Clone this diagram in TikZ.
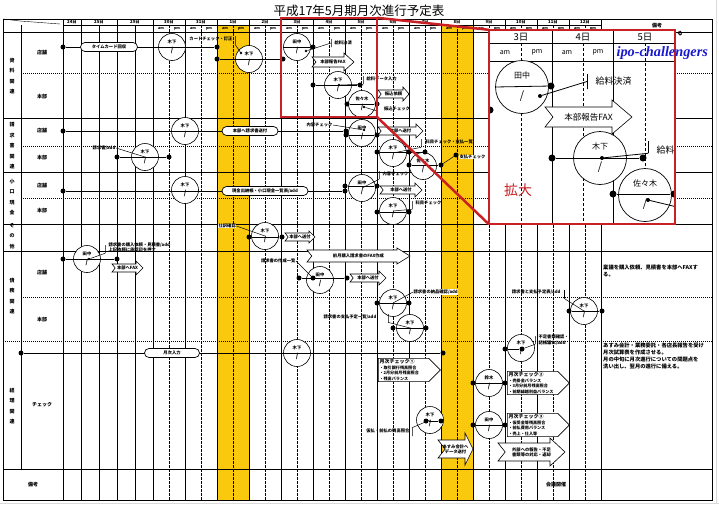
\documentclass[tikz,border=0pt]{standalone}
\usepackage{fontspec}
\setmainfont{Noto Sans CJK JP}
\newfontfamily\ipofont{Liberation Serif}
\usepackage{tikz}
\usetikzlibrary{shapes.geometric, shapes.symbols}
\definecolor{sunday}{RGB}{250,200,12}
\definecolor{zoomred}{RGB}{200,32,36}
\definecolor{ipoblue}{RGB}{25,25,205}
\tikzstyle{who} = [circle, draw, fill=white, minimum size=27pt, inner sep=0pt, align=center, line width=0.6pt, font=\fontsize{4.3}{9}\selectfont\bfseries]
\tikzstyle{bigwho} = [who, minimum size=53pt, line width=0.7pt, font=\fontsize{8}{21}\selectfont]
\tikzstyle{dot} = [circle, fill=black, inner sep=0pt, minimum size=5pt]
\tikzstyle{bigdot} = [dot, minimum size=7pt]
\tikzstyle{pin} = [dot, minimum size=2.8pt]
\tikzstyle{vbar} = [draw, inner sep=0pt, minimum width=0pt, minimum height=8pt, line width=0.6pt]
\tikzstyle{tag} = [inner sep=0.4pt, font=\fontsize{4.3}{5.2}\selectfont\bfseries]
\tikzstyle{ampm} = [inner sep=0pt, font=\fontsize{3.6}{4}\selectfont\bfseries]
\tikzstyle{note} = [inner sep=0pt, align=left, font=\fontsize{5.3}{6.8}\selectfont\bfseries]
\tikzstyle{grp} = [align=center, inner sep=0pt, font=\fontsize{5}{10.5}\selectfont\bfseries]
\tikzstyle{oval} = [rectangle, rounded corners=4.5pt, draw, fill=white, minimum height=9pt, inner sep=1pt, line width=0.7pt, font=\fontsize{4.3}{5}\selectfont\bfseries]
\tikzstyle{check} = [signal, signal to=east, draw, fill=white, align=left, text width=48pt, inner sep=1.2pt, line width=0.6pt, font=\fontsize{4.1}{5.4}\selectfont\bfseries]
\tikzstyle{line} = [draw, line width=0.8pt]
\tikzstyle{lead} = [draw, line width=0.5pt]
\tikzstyle{redline} = [draw=zoomred, line width=2.5pt]
\newcommand{\wslash}{\fontsize{6.5}{9}\selectfont /}
% notched block arrow: left x, tip x, y, body half, head half, head length, name, text
\newcommand{\fatarrow}[8]{%
  \draw[fill=white, line width=0.6pt] (#1,#3-#4) -- (#2-#6,#3-#4) -- (#2-#6,#3-#5) -- (#2,#3)
    -- (#2-#6,#3+#5) -- (#2-#6,#3+#4) -- (#1,#3+#4) -- (#1+#4*0.8,#3) -- cycle;
  \node[tag, align=center] (#7) at ({(#1+#2)/2},#3) {#8};}

\begin{document}
\begin{tikzpicture}[x=1pt, y=-1pt]
\useasboundingbox (0,0) rectangle (719,504);
\draw[gray!30] (0,503) -- (719,503);
\draw[gray!30] (716,0) -- (716,504);

\node (title) at (359,11) {\fontsize{12.5}{12.5}\selectfont 平成17年5月期月次進行予定表};

% sundays
\fill[sunday] (217,25) rectangle (249,500);
\fill[sunday] (441,25) rectangle (473,500);

% grid
\draw[line width=0.8pt] (3,19) rectangle (712,500);
\foreach \y in {32,118,172,224,251,469}
  \draw[line width=0.8pt] (3,\y) -- (712,\y);
\foreach \y in {73,146,198,297}
  \draw[dash pattern=on 0.8pt off 1.2pt, line width=0.7pt] (21,\y) -- (712,\y);
\draw[dash pattern=on 0.8pt off 1.2pt, line width=0.7pt] (3,341) -- (712,341);
\draw (63,25) -- (601,25);
\draw (21,25) -- (21,469);
\draw (3,19) -- (20,21) -- (60,24);
\foreach \x in {63,81,117,153,185,217,...,601}
  \draw (\x,19) -- (\x,500);
\foreach \x in {99,135}
  \draw (\x,25) -- (\x,500);
\foreach \x in {169,201,...,585}
  \draw[dash pattern=on 2.5pt off 1.5pt] (\x,25) -- (\x,500);

\foreach \d/\x in {24/72,25/99,29/135,30/169,31/201,1/233,2/265,3/297,4/329,5/361,6/393,7/425,8/457,9/489,10/521,11/553,12/585}
  \node[tag] (day\d) at (\x,22.2) {\d 日};
\foreach \x in {153,185,...,569} {
  \node[ampm] (am\x) at (\x+8,28.6) {am};
  \node[ampm] (pm\x) at (\x+24,28.6) {pm};
}
\node[tag, font=\fontsize{5}{6}\selectfont\bfseries] (bikohead) at (657,25.5) {備考};

\node[grp] (shiryo) at (12,76) {資\\料\\関\\連};
\node[grp] (seikyusho) at (12,146) {請\\求\\書\\関\\連};
\node[grp] (koguchi) at (12,197) {小\\口\\現\\金};
\node[grp] (sonota) at (12,236) {そ\\の\\他};
\node[grp] (saimu) at (12,296) {債\\務\\関\\連};
\node[grp] (keiri) at (12,406) {経\\理\\関\\連};
\foreach \n/\t/\y in {s1/店舗/53,s2/本部/97,s3/店舗/131,s4/本部/158,s5/店舗/186,s6/本部/211,s7/店舗/273,s8/本部/320,s9/チェック/405}
  \node[grp] (\n) at (42,\y) {\t};
\node[grp] (biko) at (33,485) {備考};

% 資料関連
\node[who] (kA) at (172,47) {木下\\\wslash};
\node[who] (kB) at (249,59) {木下\\\wslash};
\node[who] (tanaka) at (297,47) {田中\\\wslash};
\node[who] (kinoshita) at (338,85) {木下\\\wslash};
\node[who] (sasaki) at (362,104) {佐々木\\\wslash};
\node[dot] (a1) at (63,47) {};
\node[dot] (a2) at (217,47) {};
\node[dot] (a3) at (217,59) {};
\node[dot] (a4) at (283,59) {};
\node[pin] (a5) at (241,53) {};
\node[dot] (a6) at (313,47) {};
\node[pin] (a7) at (306,51) {};
\node[vbar] (t1) at (235,40) {};
\node[vbar] (t2) at (331,43) {};
\node[dot] (b1) at (313,85) {};
\node[dot] (b2) at (360,85) {};
\node[pin] (b3) at (339,85) {};
\node[vbar] (t3) at (363,80) {};
\node[dot] (b4) at (347,104) {};
\node[dot] (b5) at (377,104) {};
\node[pin] (b6) at (364,107) {};
\coordinate (b7) at (377,111);
\draw[line] (a1) -- (a2);
\draw[line] (a3) -- (a4);
\draw[lead] (t1.south) -- (a5);
\draw[line] (tanaka.west) -- (a6);
\draw[lead] (a7) -- (t2);
\draw[line] (b1) -- (b2);
\draw[lead] (b3) -- (t3.south);
\draw[line] (b4) -- (b5);
\draw[lead] (b6) -- (b7);
\node[oval, minimum width=57pt] (card) at (109,47) {タイムカード回収};
\node[tag, anchor=east] (cardchk) at (233,39) {カードチェック・訂正};
\node[tag, anchor=west] (kessai) at (334,43) {給料決済};
\node[tag, anchor=west] (kdata) at (366,79) {給料データ入力};
\fatarrow{312}{354}{62}{5}{9}{10}{fax}{本部報告FAX}
\fatarrow{378}{409}{94}{4}{7}{6}{furikomi}{振込依頼}
\node[tag] (fchk) at (397,109) {振込チェック};

% 請求書関連
\node[who] (kC) at (185,131) {木下\\\wslash};
\node[who] (tanakaC) at (362,133) {田中\\\wslash};
\node[who] (kD) at (145,157) {木下\\\wslash};
\node[who] (kE) at (393,153) {木下\\\wslash};
\node[who] (sasakiE) at (423,166) {佐々木\\\wslash};
\node[dot] (c1) at (63,131) {};
\node[dot] (c2) at (346,131) {};
\node[dot] (c3) at (346,135) {};
\node[dot] (c4) at (377,135) {};
\node[pin] (c5) at (364,130) {};
\node[dot] (d1) at (117,157) {};
\node[dot] (d2) at (169,157) {};
\node[dot] (d3) at (377,152) {};
\node[dot] (d4) at (409,152) {};
\node[dot] (d5) at (425,152) {};
\node[vbar] (t6) at (421,143) {};
\node[dot] (d6) at (409,165) {};
\node[dot] (d7) at (441,165) {};
\node[dot] (d8) at (456,155) {};
\draw[line] (c1) -- (c2);
\draw[line] (c3) -- (c4);
\draw[line] (d1) -- (d2);
\draw[line] (d3) -- (d5);
\draw[lead] (kE.center) -- (t6.south);
\draw[line] (d6) -- (d7);
\draw[lead] (d7) -- (d8);
\node[oval, minimum width=56pt] (seikyu) at (250,131) {本部へ請求書送付};
\node[tag, anchor=east] (naiyo1) at (333,125) {内容チェック};
\draw[lead] (naiyo1.east) -- (c5);
\node[tag, anchor=east] (seikyuadd) at (116,148) {請求書/add};
\draw[lead] (seikyuadd.east) -- (kD.center);
\node[tag, anchor=west] (kamoku1) at (425,142) {科目チェック・支払一覧};
\node[tag, fill=white, anchor=west] (shiharai) at (459,157) {支払チェック};
\fatarrow{378}{423}{131}{4}{7}{7}{sofu1}{本部へ送付}

% 小口現金
\node[who] (kF) at (185,190) {木下\\\wslash};
\node[who] (tanakaF) at (362,188) {田中\\\wslash};
\node[who] (kG) at (393,211) {木下\\\wslash};
\node[dot] (e1) at (63,191) {};
\node[dot] (e2) at (345,191) {};
\node[dot] (e3) at (345,186) {};
\node[dot] (e4) at (377,186) {};
\node[vbar] (t7) at (379,175) {};
\node[dot] (f1) at (377,212) {};
\node[dot] (f2) at (409,212) {};
\node[vbar] (t8) at (412,205) {};
\draw[line] (e1) -- (e2);
\draw[line] (e3) -- (e4);
\draw[lead] (t7.south) -- (tanakaF.center);
\draw[line] (f1) -- (f2);
\draw[lead] (kG.center) -- (t8.south);
\node[oval, minimum width=86pt] (kogu) at (265,191) {現金出納帳・小口現金一覧表/add};
\node[tag, anchor=west] (naiyo2) at (382,174) {内容チェック};
\node[tag, anchor=west] (kamoku2) at (415,203) {科目チェック};
\fatarrow{380}{422}{190}{4}{7}{7}{sofu2}{本部へ送付}

% その他
\node[who] (kH) at (265,236) {木下\\\wslash};
\node[dot] (g1) at (249,237) {};
\node[dot] (g2) at (282,237) {};
\draw[line] (g1) -- (g2);
\node[tag, fill=white, anchor=west] (shiwake) at (218,226) {仕訳確認};
\draw[lead] (shiwake.east) -- (kH.center);
\fatarrow{285}{315}{237}{4}{6}{6}{sofu3}{本部へ送付}

% 債務関連
\node[who] (tanakaH) at (87,259) {田中\\\wslash};
\node[who] (tanakaH2) at (320,280) {田中\\\wslash};
\node[who] (kI) at (393,303) {木下\\\wslash};
\node[who] (kJ) at (410,328) {木下\\\wslash};
\node[who] (kK) at (584,311) {木下\\\wslash};
\node[dot] (h1) at (63,259) {};
\node[dot] (h2) at (117,259) {};
\node[pin] (h3) at (89,259) {};
\node[vbar] (t9) at (105,249) {};
\node[dot] (h4) at (299,278) {};
\node[dot] (h5) at (313,278) {};
\node[dot] (h6) at (347,278) {};
\node[dot] (i1) at (377,303) {};
\node[dot] (i2) at (409,303) {};
\node[vbar] (t10) at (388,318) {};
\node[dot] (i3) at (393,328) {};
\node[dot] (i4) at (426,328) {};
\node[vbar] (t11) at (564,294) {};
\node[dot] (i5) at (569,311) {};
\node[dot] (i6) at (602,311) {};
\draw[line] (h1) -- (h2);
\draw[lead] (h3) -- (t9.south);
\draw[line] (h4) -- (h6);
\draw[line] (i1) -- (i2);
\draw[line] (i3) -- (i4);
\draw[lead] (t10.south) -- (kJ.center);
\draw[line] (i5) -- (i6);
\draw[lead] (t11.south) -- (kK.center);
\node[tag, anchor=west, align=left] (kounyu) at (108,247) {請求書の購入依頼・見積書/add\\上記依頼に承認印を押す};
\fatarrow{112}{143}{268}{4}{7}{7}{fax2}{本部へFAX}
\node[tag, anchor=east] (sakusei) at (296,261) {請求書の作成一覧};
\draw[lead] (sakusei.east) -- (h5);
\fatarrow{350}{386}{278}{4}{7}{7}{sofu4}{本部へ送付}
\fatarrow{307}{410}{256}{6}{8}{13}{zengetsu}{前月購入請求書のFAX作成}
\node[tag, fill=white, anchor=west] (nohin) at (413,292) {請求書の納品確認/add};
\draw[lead] (nohin.west) -- (kI.center);
\node[tag, anchor=west] (yotei) at (323,317) {請求書の支払予定一覧/add};
\node[tag, anchor=east] (yoteihyo) at (561,292) {請求書と支払予定表/add};
\node[note, anchor=north west] (note1) at (603,265) {稟議を購入依頼、見積書を本部へFAXす\\る。};
\node[note] (note0) at (680,34) {る};

% 経理関連
\node[who] (kL) at (297,353) {木下\\\wslash};
\node[who] (kM) at (521,348) {木下\\\wslash};
\node[who] (suzuki) at (489,383) {鈴木\\\wslash};
\node[who] (kN) at (430,420) {木下\\\wslash};
\node[who] (tanakaN) at (489,425) {田中\\\wslash};
\node[dot] (j1) at (21,353) {};
\node[dot] (j2) at (443,353) {};
\node[dot] (j3) at (505,349) {};
\node[dot] (j4) at (522,349) {};
\node[vbar] (t12) at (535,340) {};
\node[dot] (j5) at (473,383) {};
\node[dot] (j6) at (505,383) {};
\node[dot] (j7) at (426,421) {};
\node[dot] (j8) at (441,421) {};
\node[vbar] (t13) at (412,432) {};
\node[dot] (j9) at (473,425) {};
\node[dot] (j10) at (505,425) {};
\draw[line] (j1) -- (j2);
\draw[line] (j3) -- (j4);
\draw[lead] (j4) -- (t12.south);
\draw[line] (j5) -- (j6);
\draw[line] (j7) -- (j8);
\draw[lead] (t13.north) -- (kN.center);
\draw[line] (j9) -- (j10);
\node[oval, minimum width=55pt] (getsuji) at (172,353) {月次入力};
\node[tag, anchor=west, align=left] (fusoku) at (538,340) {不足書類確認・\\記帳漏れ/add};
\node[tag, anchor=east] (karibarai) at (410,431) {仮払・前払の残高照合};
\node[check, anchor=west] (chk1) at (378,370) {{\fontsize{5}{6}\selectfont 月次チェック①}\\・取引銀行残高照合\\・2月分前月残高照合\\・残高バランス};
\node[check, anchor=west] (chk2) at (507,383) {{\fontsize{5}{6}\selectfont 月次チェック②}\\・売掛金バランス\\・3月分前月残高照合\\・前期繰越利益バランス};
\node[check, anchor=west] (chk3) at (507,425) {{\fontsize{5}{6}\selectfont 月次チェック③}\\・仮受金等残高照合\\・前払費用バランス\\・売上・仕入等};
\fatarrow{438}{473}{449}{9}{16}{8}{asumi}{あすみ会計へ\\データ送付}
\fatarrow{498}{565}{452}{9}{14}{15}{gaibu}{外部への報告・不足\\書類等の対応・返却}
\node[note, anchor=north west] (note2) at (603,343) {あすみ会計・業務委託・各店長報告を受け\\月次試算表を作成させる。\\月の中旬に月次進行についての問題点を\\洗い出し、翌月の進行に備える。};
\node[grp] (kaigi) at (556,485) {会議開催};

% zoom
\node[minimum width=96pt, minimum height=99pt, inner sep=0pt] (src) at (329,67.5) {};
\node[fill=white, minimum width=186pt, minimum height=194pt, inner sep=0pt] (mag) at (582,127) {};
\begin{scope}
\clip (mag.north west) rectangle (mag.south east);
\draw (489,43) -- (675,43);
\draw (489,61) -- (675,61);
\foreach \x in {552,613}
  \draw (\x,30) -- (\x,224);
\foreach \x in {521,583,645}
  \draw[dash pattern=on 3pt off 2pt] (\x,43) -- (\x,224);
\foreach \d/\x in {3/521,4/583,5/645}
  \node[font=\fontsize{9.5}{10}\selectfont] (zday\d) at (\x,37) {\d 日};
\foreach \t/\x in {am/505,pm/537,am/567,pm/598}
  \node[font=\fontsize{7}{8}\selectfont] (z\t\x) at (\x,52.5) {\t};
\node[bigwho] (ztanaka) at (522,87) {田中\\{\fontsize{11}{21}\selectfont /}};
\node[bigwho] (zkinoshita) at (600,158) {木下\\{\fontsize{11}{21}\selectfont /}};
\node[bigwho] (zsasaki) at (645,195) {佐々木\\{\fontsize{11}{21}\selectfont /}};
\node[bigdot] (z0) at (490,110) {};
\node[bigdot] (z1) at (551,86) {};
\node[dot, minimum size=4pt] (z2) at (540,96) {};
\node[vbar, minimum height=15pt] (zt1) at (587,81.5) {};
\node[bigdot] (z3) at (552,158) {};
\node[bigdot] (z4) at (643,158) {};
\node[dot, minimum size=4pt] (z5) at (602,158) {};
\node[vbar, minimum height=12pt] (zt2) at (648,147) {};
\node[bigdot] (z6) at (613,194) {};
\node[bigdot] (z7) at (674,194) {};
\node[dot, minimum size=4pt] (z8) at (648,200) {};
\coordinate (z9) at (677,207);
\draw[line] (ztanaka.west) -- (z1);
\draw[lead, line width=0.8pt] (z2) -- (zt1.center);
\draw[line] (z3) -- (z4);
\draw[lead, line width=0.8pt] (z5) -- (zt2.south);
\draw[line] (z6) -- (z7);
\draw[lead, line width=0.8pt] (z8) -- (z9);
\node[anchor=west, font=\fontsize{9}{10}\selectfont] (zkessai) at (592,81) {給料決済};
\node[anchor=west, font=\fontsize{9}{10}\selectfont] (zkessai2) at (653,150) {給料決済};
\fatarrow{545}{632}{117}{10}{17}{20}{zfax}{\mdseries\fontsize{8.5}{9}\selectfont 本部報告FAX}
\node[text=zoomred, font=\fontsize{14}{14}\selectfont] (kakudai) at (518,190) {拡大};
\end{scope}
\draw[redline] (src.north west) rectangle (src.south east);
\draw[redline] (mag.north west) rectangle (mag.south east);
\draw[redline] (src.north east) -- (mag.north west);
\draw[redline] (src.south east) -- (mag.south west);
\node[anchor=west, text=ipoblue, font=\ipofont\bfseries\itshape\fontsize{14.3}{15}\selectfont] (ipo) at (613,53) {ipo-challengers};
\end{tikzpicture}
\end{document}
